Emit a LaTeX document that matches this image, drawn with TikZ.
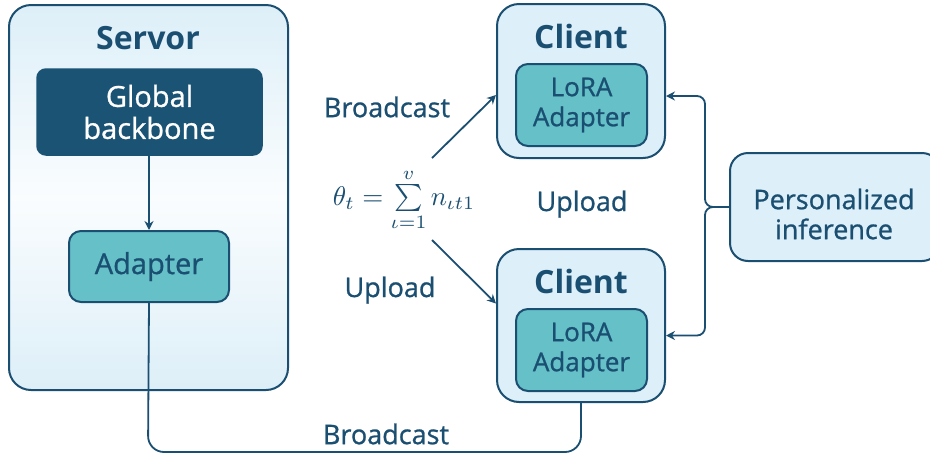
\documentclass[tikz,border=0pt]{standalone}
\usepackage{graphicx}
\usepackage{fontspec}
\setmainfont{Open Sans}
\newfontfamily\medsans{Open Sans}[FakeBold=0.9]
\usetikzlibrary{arrows.meta,positioning}
\definecolor{ink}{HTML}{1B4F72}
\definecolor{navy}{HTML}{1A5374}
\definecolor{paleblue}{HTML}{DDEFF8}
\definecolor{teal}{HTML}{66C0C7}
\tikzset{
  panel/.style={draw=ink, line width=2pt, fill=paleblue, rounded corners=22pt, inner sep=0pt},
  darkbox/.style={draw=navy, line width=1.5pt, fill=navy, rounded corners=9pt, text=white,
    font=\medsans\fontsize{29}{32}\selectfont, align=center, inner sep=0pt},
  tealbox/.style={draw=ink, line width=2pt, fill=teal, rounded corners=12pt, text=ink,
    font=\medsans\fontsize{26}{30}\selectfont, align=center, inner sep=0pt},
  heading/.style={text=ink, font=\bfseries\fontsize{32}{36}\selectfont},
  lbl/.style={text=ink, font=\medsans\fontsize{27}{30}\selectfont},
  wire/.style={draw=ink, line width=1.8pt},
  arr/.style={wire, -{Stealth[length=9pt,width=9pt,inset=3pt]}},
}
\begin{document}
\begin{tikzpicture}[x=1pt,y=-1pt]
  \useasboundingbox (0,0) rectangle (930,456);
  \fill[white] (0,0) rectangle (930,456);

  % server side, pale at the top and bottom, whiter through the middle
  \node[panel, fill=none, top color=paleblue, bottom color=paleblue, middle color=white!85!paleblue,
        minimum width=279pt, minimum height=385pt] (server) at (148.5,197.5) {};
  \node[heading] (servertitle) at (148,38) {Servor};
  \node[darkbox, minimum width=225pt, minimum height=86pt] (backbone) at (149.5,112) {Global\\backbone};
  \node[tealbox, font=\medsans\fontsize{29}{32}\selectfont, minimum width=160pt, minimum height=71pt] (adapter) at (149,266.5) {Adapter};
  \draw[arr] (backbone.south -| adapter.north) -- (adapter.north);

  % clients
  \node[panel, minimum width=168pt, minimum height=154pt] (client1) at (581,81) {};
  \node[heading] (c1title) at (581,36) {Client};
  \node[tealbox, minimum width=131pt, minimum height=82pt] (lora1) at (581.5,105) {LoRA\\Adapter};

  \node[panel, minimum width=168pt, minimum height=153pt] (client2) at (581,325.5) {};
  \node[heading] (c2title) at (581,281) {Client};
  \node[tealbox, minimum width=131pt, minimum height=82pt] (lora2) at (581.5,350) {LoRA\\Adapter};

  % personalized inference
  \node[panel, rounded corners=18pt, minimum width=210pt, minimum height=108pt] (pers) at (835,207) {};
  \node[text=ink, font=\medsans\fontsize{27}{30}\selectfont, align=center] (perstext) at (834,214) {Personalized\\inference};

  % aggregation formula
  \node[text=ink, inner sep=0pt] (formula) at (404,200)
    {\scalebox{2.7}{$\theta_t = \sum\limits_{\iota=1}^{v} n_{\iota t 1}$}};

  % broadcast / upload between server and clients
  \coordinate (bstart) at (432,158);
  \coordinate (ustart) at (432,240);
  \draw[arr] (bstart) -- ([yshift=-14pt]client1.west);
  \draw[arr] (ustart) -- ([yshift=22pt]client2.west);
  \node[lbl] (lblb1) at (387,107) {Broadcast};
  \node[lbl] (lblu1) at (390,290) {Upload};
  \node[lbl] (lblu2) at (582,204) {Upload};

  % broadcast loop from the server adapter to the lower client
  \draw[wire, rounded corners=16pt] (adapter.south) -- (148,452) -| (client2.south);
  \node[lbl] (lblb2) at (386,434) {Broadcast};

  % personalized inference feeding both clients
  \draw[arr, rounded corners=8pt] (pers.west) -- (705,207) |- ([yshift=-15pt]client1.east);
  \draw[arr, rounded corners=8pt] (pers.west) -- (705,207) |- ([yshift=-10pt]client2.east);
\end{tikzpicture}
\end{document}
